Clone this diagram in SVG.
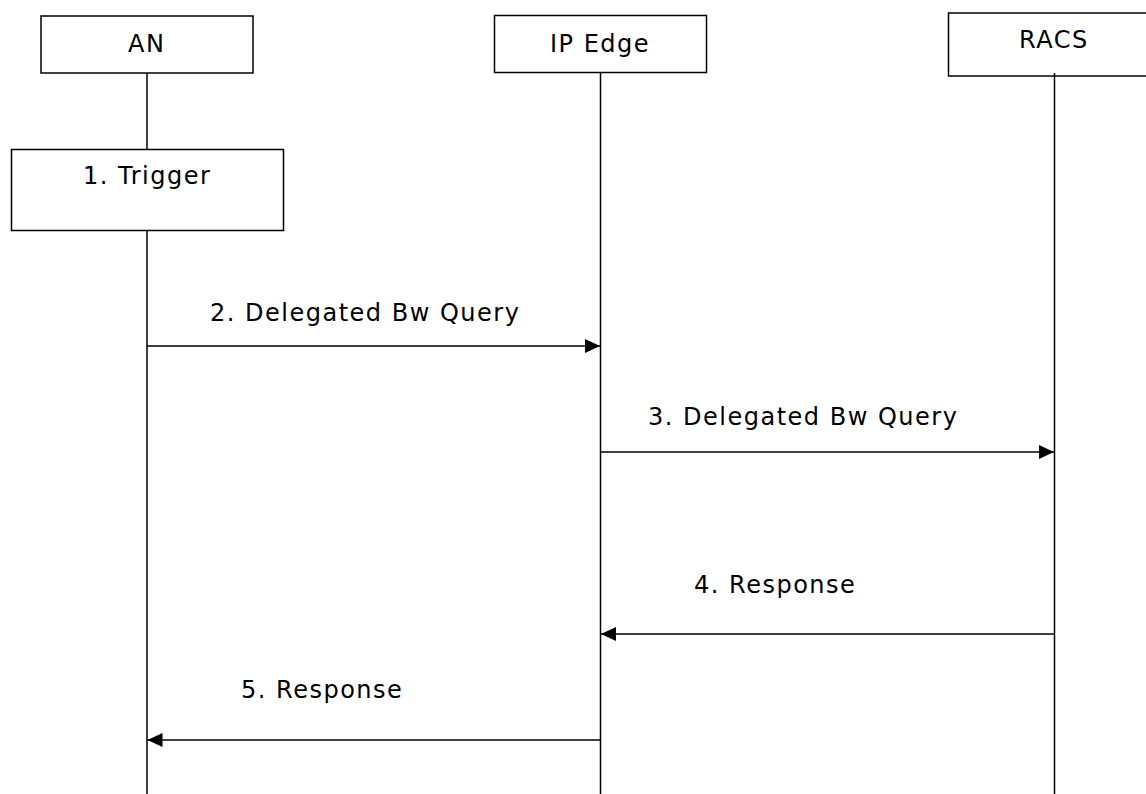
<svg xmlns="http://www.w3.org/2000/svg" width="1146" height="794" viewBox="0 0 1146 794">
  <style>
    .box { fill: #ffffff; stroke: #000000; stroke-width: 1.5; }
    .life { stroke: #000000; stroke-width: 1.5; fill: none; }
    .msg { stroke: #000000; stroke-width: 1.5; fill: none; marker-end: url(#arrow); }
    text { font-family: "DejaVu Sans", Verdana, sans-serif; font-size: 24px; letter-spacing: 1.5px; fill: #000000; }
  </style>
  <defs>
    <marker id="arrow" markerWidth="15" markerHeight="14" refX="15" refY="7" orient="auto" markerUnits="userSpaceOnUse">
      <path d="M0,0 L15,7 L0,14 Z" fill="#000000"/>
    </marker>
  </defs>
  <rect width="1146" height="794" fill="#ffffff"/>

  <!-- lifelines -->
  <g id="lifelines">
    <line class="life" x1="147" y1="73" x2="147" y2="149"/>
    <line class="life" x1="147" y1="231" x2="147" y2="794"/>
    <line class="life" x1="600.5" y1="72.5" x2="600.5" y2="794"/>
    <line class="life" x1="1054.5" y1="73" x2="1054.5" y2="794"/>
  </g>

  <g id="an">
    <rect class="box" x="41" y="16" width="212" height="57"/>
    <text x="128" y="52">AN</text>
  </g>

  <g id="ip-edge">
    <rect class="box" x="494.5" y="15.5" width="212" height="57"/>
    <text x="550" y="52">IP Edge</text>
  </g>

  <g id="racs">
    <rect class="box" x="948.5" y="13" width="212" height="63"/>
    <line class="life" x1="1054.5" y1="73" x2="1054.5" y2="76"/>
    <text x="1019" y="48">RACS</text>
  </g>

  <g id="trigger">
    <rect class="box" x="11.5" y="149.5" width="272" height="81"/>
    <text x="83" y="184">1. Trigger</text>
  </g>

  <!-- messages -->
  <g id="connectors">
    <line class="msg" x1="147" y1="346" x2="600" y2="346"/>
    <line class="msg" x1="600.5" y1="452" x2="1054" y2="452"/>
    <line class="msg" x1="1054.5" y1="634" x2="601" y2="634"/>
    <line class="msg" x1="600.5" y1="740" x2="147.5" y2="740"/>
    <text x="210" y="321">2. Delegated Bw Query</text>
    <text x="648" y="425">3. Delegated Bw Query</text>
    <text x="694" y="593">4. Response</text>
    <text x="241" y="698">5. Response</text>
  </g>
</svg>
